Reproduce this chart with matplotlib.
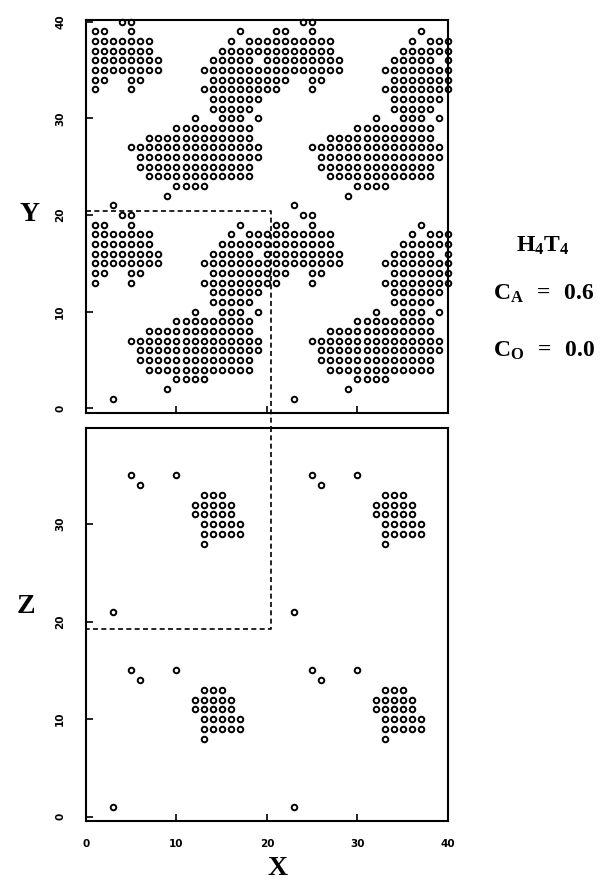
import numpy as np
import matplotlib.pyplot as plt

plt.rcParams['mathtext.fontset'] = 'custom'
plt.rcParams['mathtext.rm'] = 'Liberation Serif:bold'
plt.rcParams['mathtext.it'] = 'Liberation Serif:bold'
plt.rcParams['mathtext.bf'] = 'Liberation Serif:bold'
plt.rcParams['font.weight'] = 'bold'

# lattice sites of one 20x20 cell, read row by row as runs (first, last)
period = 20

# top panel: x-y plane
xy_rows = [20, 19, 18, 17, 16, 15, 14, 13, 12, 11, 10, 9, 8, 7, 6, 5, 4, 3, 2, 1]
xy_runs = [
    [(4, 5)],
    [(1, 2), (5, 5), (17, 17)],
    [(1, 7), (16, 16), (18, 20)],
    [(1, 7), (15, 20)],
    [(1, 8), (14, 18), (20, 20)],
    [(1, 8), (13, 20)],
    [(1, 2), (5, 6), (14, 20)],
    [(1, 1), (5, 5), (13, 20)],
    [(14, 19)],
    [(14, 18)],
    [(12, 12), (15, 17), (19, 19)],
    [(10, 18)],
    [(7, 18)],
    [(5, 19)],
    [(6, 19)],
    [(6, 18)],
    [(7, 18)],
    [(10, 13)],
    [(9, 9)],
    [(3, 3)],
]

# bottom panel: x-z plane
xz_rows = [15, 14, 13, 12, 11, 10, 9, 8, 1]
xz_runs = [
    [(5, 5), (10, 10)],
    [(6, 6)],
    [(13, 15)],
    [(12, 16)],
    [(12, 16)],
    [(13, 17)],
    [(13, 17)],
    [(13, 13)],
    [(3, 3)],
]

ticks = [0, 10, 20, 30, 40]


def expand(rows, runs):
    # the figure shows the cell and its periodic images (2 x 2)
    xs, ys = [], []
    for r, rr in zip(rows, runs):
        for a, b in rr:
            for x in range(a, b + 1):
                for dx in (0, period):
                    for dy in (0, period):
                        xs.append(x + dx)
                        ys.append(r + dy)
    return np.array(xs), np.array(ys)


fig = plt.figure(figsize=(6.12, 8.82), dpi=100)
ax1 = fig.add_axes([0.1405, 0.5317, 0.5915, 0.4456])
ax2 = fig.add_axes([0.1405, 0.0692, 0.5915, 0.4456])

for ax, (rows, runs) in zip([ax1, ax2], [(xy_rows, xy_runs), (xz_rows, xz_runs)]):
    xs, ys = expand(rows, runs)
    ax.plot(xs, ys, 'o', mfc='none', mec='black', ms=4.0, mew=1.4,
            ls='none', clip_on=False, zorder=3)
    ax.set_xlim(0, 40)
    ax.set_xticks(ticks)
    ax.set_yticks(ticks)
    ax.set_yticklabels([str(t) for t in ticks], rotation=90, va='center')
    ax.tick_params(direction='in', length=5, width=1.2, labelsize=7.5,
                   top=False, right=False)
    ax.tick_params(axis='y', pad=15)
    ax.tick_params(axis='x', pad=13)
    for s in ax.spines.values():
        s.set_linewidth(1.5)

ax1.set_ylim(-0.48, 40.17)
ax2.set_ylim(-0.44, 39.87)
ax1.tick_params(labelbottom=False)

# dashed box marking the unit cell
dash = dict(color='black', lw=1.2, ls=(0, (3, 2)), clip_on=False)
ax1.plot([0, 20.4, 20.4], [20.4, 20.4, -2.1], **dash)
ax2.plot([20.4, 20.4, 0], [40.0, 19.3, 19.3], **dash)

fig.text(30 / 612, 1 - 213 / 882, r'$\mathrm{Y}$', fontsize=20, ha='center', va='center')
fig.text(25 / 612, 1 - 605 / 882, r'$\mathrm{Z}$', fontsize=20, ha='center', va='center')
fig.text(278 / 612, 1 - 867 / 882, r'$\mathrm{X}$', fontsize=20, ha='center', va='center')

fig.text(543 / 612, 1 - 245 / 882, r'$\mathrm{H_4T_4}$', fontsize=17, ha='center', va='center')
fig.text(493 / 612, 1 - 293 / 882, r'$\mathrm{C_A}\ \,=\ \,\mathrm{0.6}$', fontsize=17, ha='left', va='center')
fig.text(493 / 612, 1 - 350 / 882, r'$\mathrm{C_O}\ \,=\ \,\mathrm{0.0}$', fontsize=17, ha='left', va='center')

fig.savefig('out.png', dpi=100)
